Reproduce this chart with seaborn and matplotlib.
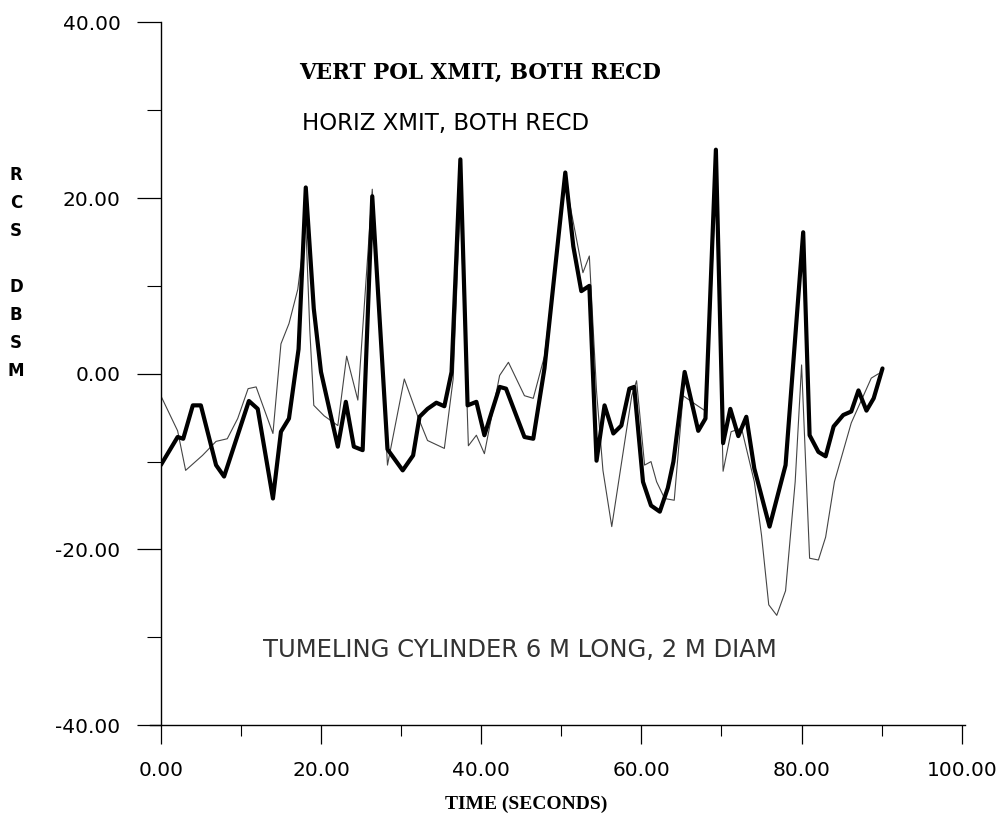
import numpy as np
import pandas as pd
import matplotlib
matplotlib.use('Agg')
import matplotlib.pyplot as plt
import seaborn as sns
from matplotlib.ticker import MultipleLocator, FormatStrFormatter

# heavy trace: vertical polarisation transmit
vert_t = [0, 2.1, 2.8, 4, 5, 6.9, 7.9, 11, 12.1, 14, 15, 16, 17.2, 18.1, 19.1, 20,
          22.1, 23.1, 24.1, 25.2, 26.4, 28.3, 30.2, 31.5, 32.3, 33.3, 34.4, 35.4,
          36.3, 37.4, 38.3, 39.4, 40.4, 42.3, 43.1, 45.4, 46.5, 47.9, 50.5, 51.5,
          52.5, 53.5, 54.4, 55.4, 56.5, 57.5, 58.5, 59.1, 60.2, 61.2, 62.3, 63.3,
          64, 65.4, 67.1, 68, 69.3, 70.2, 71.1, 72.1, 73.1, 74.1, 76, 78, 80.2,
          81, 82.1, 83, 84, 85.2, 86.2, 87.1, 88.1, 89, 90.1]
vert_db = [-10.4, -7.2, -7.4, -3.6, -3.6, -10.4, -11.7, -3.1, -4, -14.2, -6.6, -5.1,
           2.8, 21.2, 7.4, 0.2, -8.3, -3.2, -8.3, -8.7, 20.2, -8.6, -11, -9.3, -4.9,
           -4, -3.3, -3.7, 0.2, 24.4, -3.6, -3.2, -7, -1.5, -1.7, -7.2, -7.4, 0.6,
           22.9, 14.5, 9.4, 10, -9.9, -3.6, -6.8, -5.9, -1.7, -1.5, -12.3, -15,
           -15.7, -13, -10, 0.2, -6.5, -5.1, 25.5, -7.9, -4, -7.1, -4.9, -10.8,
           -17.4, -10.4, 16.1, -7, -8.9, -9.4, -6, -4.7, -4.3, -1.9, -4.2, -2.8, 0.6]

# thin trace: horizontal transmit
horiz_t = [0, 2.1, 3.1, 5.2, 6.9, 8.3, 9.6, 10.9, 11.9, 14, 15, 16, 17.1, 18.1, 18.6,
           19.1, 20.4, 22.1, 23.2, 24.6, 26.4, 28.3, 30.4, 32.1, 33.3, 35.4, 36.5,
           37.4, 38.4, 39.4, 40.4, 42.3, 43.4, 45.4, 46.5, 47.9, 50.5, 52.7, 53.5,
           54.4, 55.2, 56.3, 58.8, 59.4, 60.4, 61.2, 61.9, 62.9, 64.1, 65.2, 67.1,
           68.1, 69.3, 70.2, 71.2, 72.5, 74.1, 75, 75.9, 76.9, 78, 79.2, 80, 81,
           82.1, 83, 84.1, 86.2, 88.7, 89.6]
horiz_db = [-2.5, -6.5, -11, -9.3, -7.7, -7.4, -5.1, -1.7, -1.5, -6.8, 3.4, 5.7, 9.6,
            17, 5, -3.6, -4.8, -5.9, 2, -3, 21, -10.4, -0.6, -4.9, -7.6, -8.5, -0.6,
            20, -8.2, -7, -9.1, -0.2, 1.3, -2.5, -2.8, 2, 22, 11.5, 13.4, -2, -11,
            -17.4, -2.5, -0.8, -10.4, -10, -12.3, -14.2, -14.4, -2.5, -3.7, -4.3, 22,
            -11.1, -6.6, -6.2, -12.3, -18.4, -26.3, -27.5, -24.7, -12.3, 1, -21,
            -21.2, -18.6, -12.3, -5.6, -0.5, 0]

vert = pd.DataFrame({'t': vert_t, 'db': vert_db})
horiz = pd.DataFrame({'t': horiz_t, 'db': horiz_db})

sns.set_style('ticks')
plt.rcParams['font.family'] = ['DejaVu Sans']
plt.rcParams['text.color'] = 'black'
plt.rcParams['xtick.color'] = 'black'
plt.rcParams['ytick.color'] = 'black'
plt.rcParams['xtick.labelcolor'] = 'black'
plt.rcParams['ytick.labelcolor'] = 'black'

fig = plt.figure(figsize=(10.05, 8.25), dpi=100)
ax = fig.add_axes([0.160, 0.121, 0.797, 0.852])

sns.lineplot(data=horiz, x='t', y='db', ax=ax, color='#444444', linewidth=0.8,
             sort=False, estimator=None)
sns.lineplot(data=vert, x='t', y='db', ax=ax, color='black', linewidth=3.0,
             sort=False, estimator=None)

ax.set_xlim(0, 100)
ax.set_ylim(-40, 40)
ax.xaxis.set_major_locator(MultipleLocator(20))
ax.xaxis.set_minor_locator(MultipleLocator(10))
ax.yaxis.set_major_locator(MultipleLocator(20))
ax.yaxis.set_minor_locator(MultipleLocator(10))
ax.xaxis.set_major_formatter(FormatStrFormatter('%.2f'))
ax.yaxis.set_major_formatter(FormatStrFormatter('%.2f'))

sns.despine(ax=ax)
for s in ['left', 'bottom']:
    ax.spines[s].set_linewidth(1.0)
    ax.spines[s].set_color('black')
ax.spines['bottom'].set_bounds(-1.3, 100.4)

ax.tick_params(axis='both', which='major', direction='out', length=17, width=0.9,
               labelsize=14.5)
ax.tick_params(axis='both', which='minor', direction='out', length=10, width=0.8)
ax.tick_params(axis='x', which='major', pad=12, length=14)
ax.tick_params(axis='x', which='minor', length=8)
ax.tick_params(axis='y', which='major', pad=12)

ax.set_xlabel('')
ax.set_ylabel('')
ax.text(45.6, -49.0, 'TIME (SECONDS)', ha='center', va='center',
        family='Liberation Serif', fontweight='bold', fontsize=14)

fig.text(0.016, 0.669, 'R\nC\nS\n\nD\nB\nS\nM', ha='center', va='center',
         fontweight='bold', fontsize=12, linespacing=1.72)

ax.text(39.8, 34.2, 'VERT POL XMIT, BOTH RECD', ha='center', va='center',
        family='DejaVu Serif', fontweight='bold', fontsize=15.5)
ax.text(35.6, 28.5, 'HORIZ XMIT, BOTH RECD', ha='center', va='center',
        fontsize=16.5)
ax.text(44.8, -31.4, 'TUMELING CYLINDER 6 M LONG, 2 M DIAM', ha='center',
        va='center', fontsize=17.5, color='#333333')

fig.savefig('out.png', dpi=100)
